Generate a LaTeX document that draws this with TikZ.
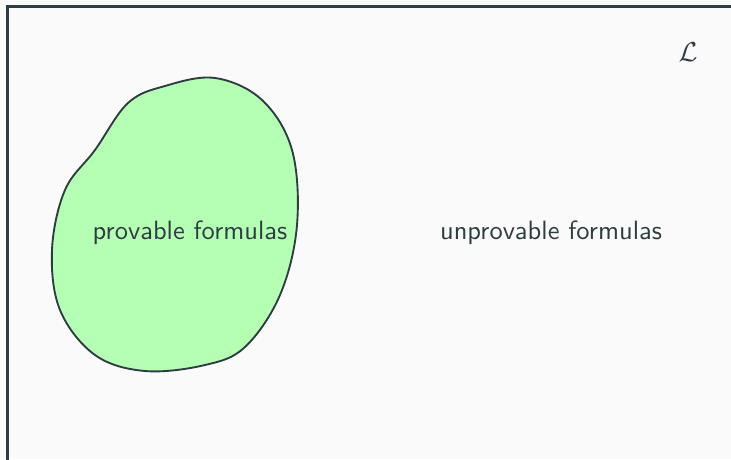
\documentclass[tikz,border=0pt]{standalone}
\definecolor{ink}{HTML}{2E3D42}
\definecolor{bg}{HTML}{FAFAFA}
\definecolor{greenfill}{HTML}{B5FFB5}
\tikzset{
  frameline/.style={draw=ink, line width=0.9pt},
  blob/.style={draw=ink, fill=greenfill, line width=0.75pt},
  lbl/.style={text=ink, font=\fontsize{10.6}{12}\sffamily}
}
\begin{document}
\begin{tikzpicture}[x=0.4pt,y=-0.4pt]
\fill[bg] (0,0) rectangle (731,459);
\useasboundingbox (0,0) rectangle (731,459);
\begin{scope}
\clip (0,0) rectangle (731,459);
\coordinate (fbl) at (7.5,520);
\coordinate (ftl) at (7.5,6.5);
\coordinate (ftr) at (800,6.5);
\draw[frameline] (fbl) -- (ftl) -- (ftr);
\end{scope}
\draw[blob] plot[smooth cycle, tension=0.6] coordinates {
 (128,103) (95,150) (65,190) (52,250) (60,310) (95,355) (145,371) (205,365) (245,347) (280,295) (297,225) (292,150) (262,100) (215,78) (165,86)};
\node[lbl] (prov) at (190,233) {provable formulas};
\node[lbl] (unprov) at (551,233) {unprovable formulas};
\node[text=ink, font=\fontsize{10.6}{12}\selectfont] (L) at (688,52) {$\mathcal{L}$};
\end{tikzpicture}
\end{document}
